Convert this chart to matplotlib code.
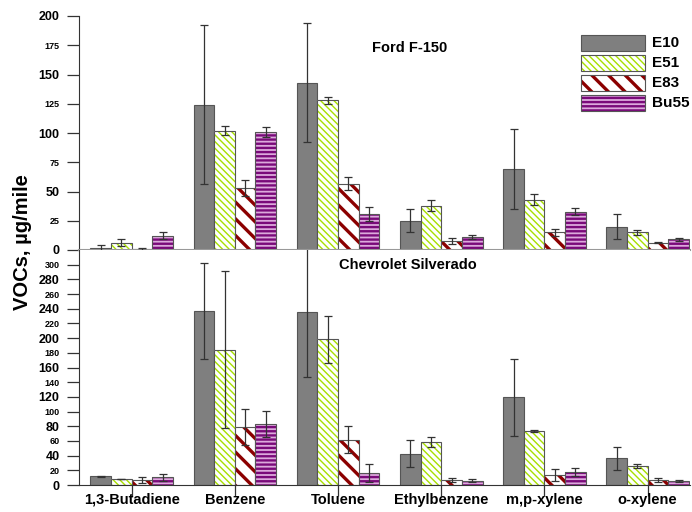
import numpy as np
import matplotlib.pyplot as plt
from matplotlib.patches import Rectangle

plt.rcParams['font.family'] = ['Liberation Sans', 'DejaVu Sans']
plt.rcParams['font.weight'] = 'bold'

compounds = ['1,3-Butadiene', 'Benzene', 'Toluene', 'Ethylbenzene', 'm,p-xylene', 'o-xylene']
fuels = ['E10', 'E51', 'E83', 'Bu55']

# Ford F-150 (values, error)
ford_e10 = [2, 124, 143, 25, 69, 20]
ford_e51 = [6, 102, 128, 38, 43, 15]
ford_e83 = [0.8, 53, 56.5, 7.7, 15, 6.2]
ford_bu55 = [12, 101, 31, 11, 32.5, 9]
ford_e10_err = [2.5, 68, 51, 10, 34, 10.5]
ford_e51_err = [3, 4, 3, 4.5, 4.7, 2.5]
ford_e83_err = [0.5, 7, 5.5, 2.5, 3, 0.5]
ford_bu55_err = [3, 4.4, 6, 1.5, 3, 1]

# Chevrolet Silverado (values, error)
chev_e10 = [11.8, 237, 235, 42.6, 119.6, 36.7]
chev_e51 = [8.2, 184, 198.5, 58.4, 73.4, 25.8]
chev_e83 = [7.2, 78.8, 61.6, 6.8, 13.1, 7.2]
chev_bu55 = [10.4, 83.4, 16.3, 5.9, 17.7, 5.4]
chev_e10_err = [0.5, 65.5, 88, 18, 52.5, 15.6]
chev_e51_err = [0.3, 107, 32, 6.8, 1.6, 2.5]
chev_e83_err = [4, 24.7, 18.4, 2.7, 8.2, 2.7]
chev_bu55_err = [4.7, 17.7, 12.2, 2, 5.7, 1.6]

styles = {
    'E10': dict(face='#7f7f7f', hatch=None, hcolor=None, hlw=1.0),
    'E51': dict(face='white', hatch='\\\\\\\\\\', hcolor='#a8e000', hlw=1.0),
    'E83': dict(face='white', hatch='\\\\', hcolor='#8b0000', hlw=2.4),
    'Bu55': dict(face='#dcaadc', hatch='----', hcolor='#7a0a7a', hlw=1.7),
}


def styled_bar(ax, x, h, w, fuel, **kw):
    st = styles[fuel]
    if st['hatch'] is None:
        ax.bar(x, h, w, color=st['face'], edgecolor='#555555', linewidth=0.8, **kw)
        return
    bars = ax.bar(x, h, w, color=st['face'], edgecolor=st['hcolor'],
                  hatch=st['hatch'], linewidth=0, **kw)
    for b in bars:
        if hasattr(b, 'set_hatch_linewidth'):
            b.set_hatch_linewidth(st['hlw'])
    ax.bar(x, h, w, fill=False, edgecolor='#555555', linewidth=0.8, **kw)


def draw_panel(ax, series, errs):
    x = np.arange(len(compounds))
    w = 0.2
    for i, fuel in enumerate(fuels):
        xi = x + (i - 1.5) * w
        styled_bar(ax, xi, series[i], w, fuel, zorder=2)
        ax.errorbar(xi, series[i], yerr=errs[i], fmt='none', ecolor='#333333',
                    elinewidth=0.9, capsize=3, capthick=0.9, zorder=3)
    ax.set_xlim(-0.51, 5.41)
    for s in ['top', 'right']:
        ax.spines[s].set_visible(False)


fig = plt.figure(figsize=(6.92, 5.12), dpi=100)
ax_top = fig.add_axes([79 / 692, 262 / 512, 611 / 692, 234 / 512])
ax_bot = fig.add_axes([79 / 692, 27 / 512, 611 / 692, 235 / 512])

draw_panel(ax_top, [ford_e10, ford_e51, ford_e83, ford_bu55],
           [ford_e10_err, ford_e51_err, ford_e83_err, ford_bu55_err])
draw_panel(ax_bot, [chev_e10, chev_e51, chev_e83, chev_bu55],
           [chev_e10_err, chev_e51_err, chev_e83_err, chev_bu55_err])

# top panel axes
ax_top.set_ylim(0, 200)
ax_top.set_yticks([0, 50, 100, 150, 200])
ax_top.set_yticks([25, 75, 125, 175], minor=True)
ax_top.set_yticklabels(['25', '75', '125', '175'], minor=True)
ax_top.set_xticks([])
ax_top.spines['bottom'].set_color('#999999')
ax_top.spines['bottom'].set_linewidth(1.5)

# bottom panel axes
ax_bot.set_ylim(0, 320)
ax_bot.set_yticks(np.arange(0, 281, 40))
ax_bot.set_yticks(np.arange(20, 301, 40), minor=True)
ax_bot.set_yticklabels([str(v) for v in np.arange(20, 301, 40)], minor=True)
ax_bot.set_xticks(np.arange(len(compounds)))
ax_bot.set_xticklabels(compounds, fontsize=10.5, fontweight='bold')
ax_bot.tick_params(axis='x', direction='out', length=8, width=0.9, pad=-2.5,
                   colors='#333333', labelcolor='black')
ax_bot.spines['bottom'].set_color('#333333')

for ax in (ax_top, ax_bot):
    ax.spines['left'].set_color('#333333')
    ax.tick_params(axis='y', which='major', direction='out', length=9, width=0.9,
                   labelsize=9, pad=5, colors='#333333', labelcolor='black')
    ax.tick_params(axis='y', which='minor', direction='out', length=9, width=0.9,
                   labelsize=6.5, pad=5, colors='#333333', labelcolor='black')
    for lab in ax.get_yticklabels(which='both'):
        lab.set_fontweight('bold')

fig.text(23 / 692, 1 - 242 / 512, 'VOCs, µg/mile', rotation=90, fontsize=14.5,
         fontweight='bold', ha='center', va='center')
fig.text(410 / 692, 1 - 48 / 512, 'Ford F-150', fontsize=10.5, fontweight='bold',
         ha='center', va='center')
fig.text(339 / 692, 1 - 265 / 512, 'Chevrolet Silverado', fontsize=10.5,
         fontweight='bold', ha='left', va='center')

# legend
for i, fuel in enumerate(fuels):
    st = styles[fuel]
    yc = 43 + 20 * i
    xy = (581 / 692, 1 - (yc + 8) / 512)
    wh = (64 / 692, 16 / 512)
    if st['hatch'] is None:
        fig.add_artist(Rectangle(xy, *wh, transform=fig.transFigure, facecolor=st['face'],
                                 edgecolor='#555555', linewidth=0.8))
    else:
        r = Rectangle(xy, *wh, transform=fig.transFigure, facecolor=st['face'],
                      edgecolor=st['hcolor'], hatch=st['hatch'], linewidth=0)
        if hasattr(r, 'set_hatch_linewidth'):
            r.set_hatch_linewidth(st['hlw'])
        fig.add_artist(r)
        fig.add_artist(Rectangle(xy, *wh, transform=fig.transFigure, fill=False,
                                 edgecolor='#555555', linewidth=0.8))
    fig.text(652 / 692, 1 - yc / 512, fuel, fontsize=11, fontweight='bold',
             ha='left', va='center')

plt.savefig('out.png', dpi=100)
